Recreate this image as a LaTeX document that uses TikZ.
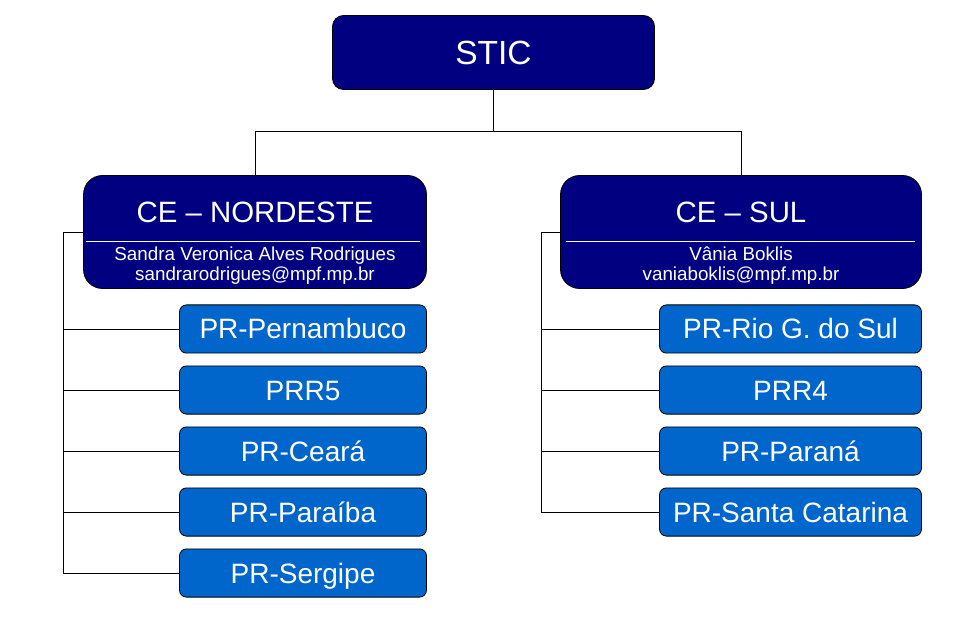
\documentclass[tikz,border=0pt]{standalone}
\usepackage{fontspec}
\setmainfont{Liberation Sans}
\usepackage{xcolor}
\usetikzlibrary{positioning}
\definecolor{OrgNavy}{HTML}{000080}
\definecolor{OrgBlue}{HTML}{0066CC}
\newcommand{\fsz}[1]{\fontsize{#1}{#1}\selectfont}

\begin{document}
\begin{tikzpicture}[
  x=1pt, y=1pt,
  node distance=12pt,
  topbox/.style={draw=black, line width=0.8pt, rounded corners=11pt, fill=OrgNavy, text=white, minimum width=322pt, minimum height=74pt, font=\fsz{33.5}},
  cebox/.style={draw=black, line width=0.8pt, rounded corners=19pt, fill=OrgNavy, minimum height=113pt},
  prbox/.style={draw=black, line width=0.8pt, rounded corners=7pt, fill=OrgBlue, text=white, minimum height=48.2pt, text height=20pt, text depth=0pt, font=\fsz{28}},
  cetitle/.style={anchor=base, text=white, inner sep=0pt, font=\fsz{29.4}},
  cesmall/.style={anchor=base, text=white, inner sep=0pt, font=\fsz{18.8}},
  sepline/.style={draw=white, line width=0.9pt},
  link/.style={draw=black, line width=0.9pt}
]
  \useasboundingbox (0,0) rectangle (958,-617);
  % top level
  \node[topbox] (stic) at (493.5,-52.5) {STIC};
  \node[cebox, minimum width=343pt] (nord) at (255,-232) {};
  \node[cebox, minimum width=361pt] (sul) at (741,-232) {};
  % texts inside the two CE boxes
  \node[cetitle] (nordT) at ([yshift=-47.7pt]nord.north) {CE – NORDESTE};
  \node[cesmall] (nordN) at ([yshift=-85.7pt]nord.north) {Sandra Veronica Alves Rodrigues};
  \node[cesmall] (nordM) at ([yshift=-105pt]nord.north) {sandrarodrigues@mpf.mp.br};
  \draw[sepline] ([xshift=3pt,yshift=-66.5pt]nord.north west) -- ([xshift=-7pt,yshift=-66.5pt]nord.north east);
  \node[cetitle] (sulT) at ([yshift=-47.7pt]sul.north) {CE – SUL};
  \node[cesmall] (sulN) at ([yshift=-85.7pt]sul.north) {Vânia Boklis};
  \node[cesmall] (sulM) at ([yshift=-105pt]sul.north) {vaniaboklis@mpf.mp.br};
  \draw[sepline] ([xshift=6pt,yshift=-66.5pt]sul.north west) -- ([xshift=-7pt,yshift=-66.5pt]sul.north east);
  % nordeste units
  \node[prbox, minimum width=247pt] (pe) at (303,-329) {PR-Pernambuco};
  \node[prbox, minimum width=247pt, below=of pe] (prr5) {PRR5};
  \node[prbox, minimum width=247pt, below=of prr5] (ce) {PR-Ceará};
  \node[prbox, minimum width=247pt, below=of ce] (pb) {PR-Paraíba};
  \node[prbox, minimum width=247pt, below=of pb] (se) {PR-Sergipe};
  % sul units
  \node[prbox, minimum width=262pt] (rs) at (790.5,-329) {PR-Rio G. do Sul};
  \node[prbox, minimum width=262pt, below=of rs] (prr4) {PRR4};
  \node[prbox, minimum width=262pt, below=of prr4] (parana) {PR-Paraná};
  \node[prbox, minimum width=262pt, below=of parana] (sc) {PR-Santa Catarina};
  % connectors
  \draw[link] (stic.south) -- ++(0,-42) coordinate (fork);
  \draw[link] (fork) -| (nord.north);
  \draw[link] (fork) -| (sul.north);
  \foreach \u in {pe,prr5,ce,pb,se}
    \draw[link] (nord.west) -- ++(-20,0) |- (\u.west);
  \foreach \u in {rs,prr4,parana,sc}
    \draw[link] (sul.west) -- ++(-19,0) |- (\u.west);
\end{tikzpicture}
\end{document}
